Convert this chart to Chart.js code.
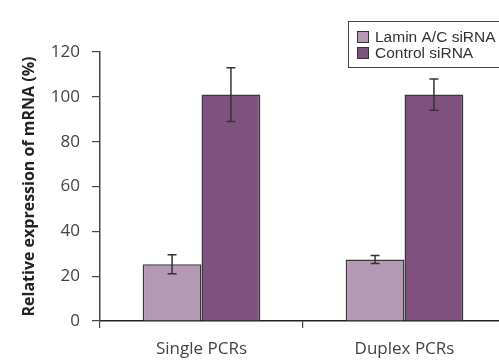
<!DOCTYPE html>
<html>
<head>
<meta charset="utf-8">
<script src="https://cdn.jsdelivr.net/npm/chart.js@4"></script>
<style>
    html, body { margin: 0; padding: 0; background: #fff; overflow: hidden; }
    #wrap { width: 499px; height: 361px; overflow: hidden; position: relative; }
    #box { width: 520px; height: 361px; }
</style>
</head>
<body>
<div id="wrap"><div id="box"><canvas id="chart"></canvas></div></div>
<script>
'use strict';

const categories = ['Single PCRs', 'Duplex PCRs'];
const laminValues = [25.3, 27.4];
const laminErrors = [4.2, 1.8];
const controlValues = [101, 101];
const controlErrors = [12, 7];
const yTicks = [0, 20, 40, 60, 80, 100, 120];

const errorSets = [laminErrors, controlErrors];

// error bars, placed from the bar elements and the y scale
const errorBars = {
    id: 'errorBars',
    afterDatasetsDraw(chart) {
        const ctx = chart.ctx;
        const y = chart.scales.y;
        ctx.save();
        ctx.strokeStyle = '#333';
        ctx.lineWidth = 1.5;
        chart.data.datasets.forEach((ds, i) => {
            const meta = chart.getDatasetMeta(i);
            meta.data.forEach((bar, j) => {
                const v = ds.data[j];
                const e = errorSets[i][j];
                const top = y.getPixelForValue(v + e);
                const bot = y.getPixelForValue(v - e);
                ctx.beginPath();
                ctx.moveTo(bar.x, top);
                ctx.lineTo(bar.x, bot);
                ctx.moveTo(bar.x - 4.5, top);
                ctx.lineTo(bar.x + 4.5, top);
                ctx.moveTo(bar.x - 4.5, bot);
                ctx.lineTo(bar.x + 4.5, bot);
                ctx.stroke();
            });
        });
        ctx.restore();
    }
};

// boxed legend in the top right corner
const boxLegend = {
    id: 'boxLegend',
    afterDraw(chart) {
        const ctx = chart.ctx;
        ctx.save();
        ctx.strokeStyle = '#444';
        ctx.lineWidth = 1;
        ctx.strokeRect(348.5, 21.5, 170, 46);
        ctx.font = '15.5px "Liberation Sans", Arial, sans-serif';
        ctx.textBaseline = 'middle';
        chart.data.datasets.forEach((ds, i) => {
            const cy = 37 + i * 16;
            ctx.fillStyle = ds.backgroundColor;
            ctx.fillRect(357.5, cy - 5.5, 11, 11);
            ctx.strokeStyle = '#333';
            ctx.strokeRect(357.5, cy - 5.5, 11, 11);
            ctx.fillStyle = '#333';
            ctx.fillText(ds.label, 375, cy + 1);
        });
        ctx.restore();
    }
};

const ctx = document.getElementById('chart').getContext('2d');
const chart = new Chart(ctx, {
    type: 'bar',
    data: {
        labels: categories,
        datasets: [
            {
                label: 'Lamin A/C siRNA',
                data: laminValues,
                backgroundColor: '#b598b4',
                borderColor: '#3a3a3a',
                borderWidth: 1.5
            },
            {
                label: 'Control siRNA',
                data: controlValues,
                backgroundColor: '#7e517e',
                borderColor: '#3a3a3a',
                borderWidth: 1.5
            }
        ]
    },
    options: {
        responsive: true,
        maintainAspectRatio: false,
        animation: false,
        datasets: {
            bar: { categoryPercentage: 0.58, barPercentage: 1.0 }
        },
        layout: {
            padding: { top: 52, right: 14, left: 0, bottom: 0 }
        },
        scales: {
            x: {
                grid: {
                    offset: true,
                    drawOnChartArea: false,
                    drawTicks: true,
                    tickLength: 7,
                    color: '#444',
                    lineWidth: 1.2
                },
                border: { display: true, color: '#222', width: 1.5 },
                ticks: {
                    color: '#444',
                    padding: 11,
                    font: { family: '"Open Sans", sans-serif', size: 17 }
                },
                afterFit: (s) => { s.height = 40; }
            },
            y: {
                min: 0,
                max: 120,
                afterBuildTicks: (s) => { s.ticks = yTicks.map(v => ({ value: v })); },
                grid: {
                    drawOnChartArea: false,
                    drawTicks: true,
                    tickLength: 8,
                    color: '#444',
                    lineWidth: 1.2
                },
                border: { display: true, color: '#444', width: 1.5 },
                ticks: {
                    color: '#444',
                    padding: 12,
                    font: { family: '"Open Sans", sans-serif', size: 17 }
                },
                title: {
                    display: true,
                    text: 'Relative expression of mRNA (%)',
                    color: '#222',
                    padding: { top: 20, bottom: 0 },
                    font: { family: '"Open Sans", sans-serif', size: 16, weight: 'bold' }
                },
                afterFit: (s) => { s.width = 100; }
            }
        },
        plugins: {
            legend: { display: false },
            tooltip: { enabled: false }
        }
    },
    plugins: [errorBars, boxLegend]
});
</script>
</body>
</html>
